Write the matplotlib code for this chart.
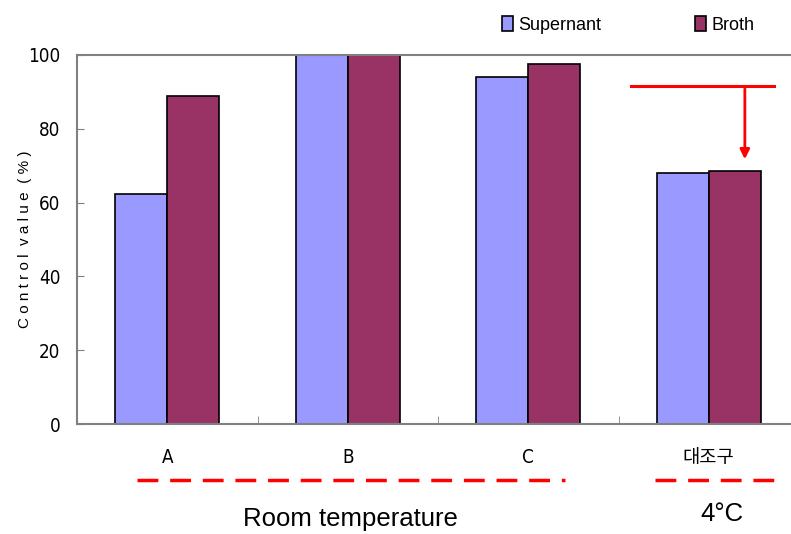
import numpy as np
import matplotlib.pyplot as plt
from matplotlib.lines import Line2D

groups = ['A', 'B', 'C', '대조구']
supernant = [62.4, 100.0, 94.1, 67.9]
broth = [89.0, 100.0, 97.6, 68.5]
yticks = [0, 20, 40, 60, 80, 100]

# red marker line + arrow pointing to the control group
bracket_x = (2.57, 3.36)
bracket_y = 91.6
arrow_x = 3.20
arrow_end = 71.0

blue = '#9999FF'
maroon = '#993366'
arial = ['Liberation Sans', 'Noto Sans CJK KR', 'DejaVu Sans']
narrow = ['DejaVu Sans', 'Noto Sans CJK KR']

fig = plt.figure(figsize=(7.91, 5.34), dpi=100)
ax = fig.add_axes([77/791, 110/534, 722/791, 369/534])

x = np.arange(len(groups))
w = 0.288
ax.bar(x - w/2, supernant, w, color=blue, edgecolor='black', linewidth=1.2, label='Supernant')
ax.bar(x + w/2, broth, w, color=maroon, edgecolor='black', linewidth=1.2, label='Broth')

ax.set_xlim(-0.5, 3.5)
ax.set_ylim(0, 100)
ax.set_yticks(yticks)
ax.set_yticklabels([str(v) for v in yticks], family=narrow, fontstretch='condensed', fontsize=13.5)
ax.tick_params(axis='y', direction='in', length=5, color='#808080', pad=12)
ax.set_xticks(x)
ax.set_xticklabels(groups, family=narrow, fontstretch='condensed', fontsize=13.5)
ax.tick_params(axis='x', which='major', length=0, pad=17)
ax.set_xticks([0.5, 1.5, 2.5], minor=True)
ax.tick_params(axis='x', which='minor', direction='in', length=6, color='#808080')

for s in ['top', 'left', 'bottom']:
    ax.spines[s].set_color('#808080')
    ax.spines[s].set_linewidth(1.5)
ax.spines['right'].set_visible(False)

ax.set_ylabel('C o n t r o l  v a l u e  ( % )', family=arial, fontsize=11)
ax.yaxis.set_label_coords(-0.062, 0.5)

# annotation
ax.plot(bracket_x, [bracket_y, bracket_y], color='red', lw=2.2)
ax.annotate('', xy=(arrow_x, arrow_end), xytext=(arrow_x, bracket_y),
            arrowprops=dict(arrowstyle='-|>', color='red', lw=2, mutation_scale=14))

# legend
leg = fig.legend(loc='upper left', bbox_to_anchor=(486/791, 1 - 0/534), ncol=2, frameon=False,
                 prop={'family': arial, 'size': 13}, handlelength=0.6, handleheight=0.9,
                 handletextpad=0.3, columnspacing=5.2)

# temperature groupings below the axis
fig.add_artist(Line2D([137/791, 565/791], [1 - 480/534] * 2, color='red', lw=2.5,
                      linestyle=(0, (6, 3.4))))
fig.add_artist(Line2D([655/791, 785/791], [1 - 480/534] * 2, color='red', lw=2.5,
                      linestyle=(0, (6, 3.4))))
fig.text(350/791, 1 - 519/534, 'Room temperature', family=arial, fontsize=18.5, ha='center', va='center')
fig.text(722/791, 1 - 514/534, '4°C', family=arial, fontsize=18.5, ha='center', va='center')

fig.savefig('out.png', dpi=100)
